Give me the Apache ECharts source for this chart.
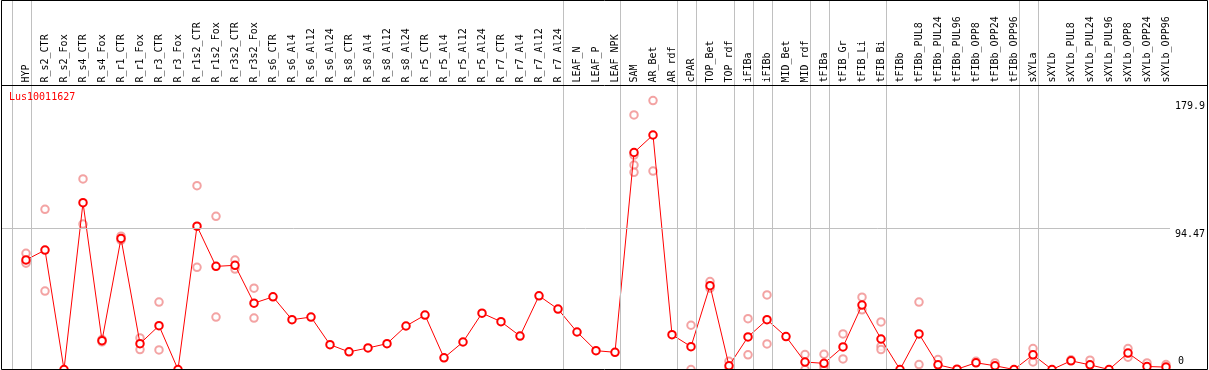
<!DOCTYPE html>
<html><head><meta charset="utf-8">
<script src="https://cdn.jsdelivr.net/npm/echarts@6/dist/echarts.min.js"></script>
<style>html,body{margin:0;padding:0;background:#fff}#c{width:1209px;height:370px}</style>
</head><body><div id="c"></div>
<script>
const chartTitle = 'Lus10011627';
const categories = ['HYP','R_s2_CTR','R_s2_Fox','R_s4_CTR','R_s4_Fox','R_r1_CTR','R_r1_Fox','R_r3_CTR','R_r3_Fox','R_r1s2_CTR','R_r1s2_Fox','R_r3s2_CTR','R_r3s2_Fox','R_s6_CTR','R_s6_Al4','R_s6_Al12','R_s6_Al24','R_s8_CTR','R_s8_Al4','R_s8_Al12','R_s8_Al24','R_r5_CTR','R_r5_Al4','R_r5_Al12','R_r5_Al24','R_r7_CTR','R_r7_Al4','R_r7_Al12','R_r7_Al24','LEAF_N','LEAF_P','LEAF_NPK','SAM','AR_Bet','AR_rdf','cPAR','TOP_Bet','TOP_rdf','iFIBa','iFIBb','MID_Bet','MID_rdf','tFIBa','tFIB_Gr','tFIB_Li','tFIB_Bi','tFIBb','tFIBb_PUL8','tFIBb_PUL24','tFIBb_PUL96','tFIBb_OPP8','tFIBb_OPP24','tFIBb_OPP96','sXYLa','sXYLb','sXYLb_PUL8','sXYLb_PUL24','sXYLb_PUL96','sXYLb_OPP8','sXYLb_OPP24','sXYLb_OPP96'];
const means = [
  73.3, 79.9, 0, 111.6, 19.3, 87.7, 17.3, 29.3, 0, 95.9,
  69.0, 69.7, 44.4, 48.6, 33.3, 35.1, 16.6, 11.8, 14.4, 17.3,
  29.1, 36.4, 7.8, 18.4, 37.7, 32.0, 22.4, 49.3, 40.4, 25.1,
  12.6, 11.5, 145.2, 156.9, 23.3, 15.3, 56.1, 2.5, 21.8, 33.3,
  22.0, 5.0, 4.1, 15.1, 43.1, 20.4, 0, 23.8, 3.1, 0.2,
  4.5, 2.5, 0, 9.8, 0, 5.8, 3.1, 0, 11.0, 2.0, 1.6
];
const replicates = [
  [77.7, 72.1, 71.1], [107.2, 52.5], [], [127.5, 97.3], [20.0, 18.5],
  [89.2, 86.5], [21.1, 13.3], [45.1, 13.1], [], [123.0, 68.4],
  [102.5, 35.1], [73.2, 67.2], [54.4, 34.4], [], [],
  [], [], [], [], [],
  [], [], [], [], [],
  [], [], [], [], [],
  [], [], [170.3, 143.5, 136.8, 131.9], [179.9, 132.8], [],
  [29.6, 0], [58.8, 54.4], [5.5, 0.3], [34.0, 9.8], [49.9, 17.1],
  [], [10.0, 0], [10.2, 2.2, 0], [23.8, 7.1], [48.4, 39.9],
  [31.8, 15.5, 13.3], [], [45.1, 3.3], [6.7], [],
  [5.5], [4.4], [], [14.0, 5.1], [],
  [6.5], [6.2], [], [14.0, 8.2], [4.4],
  [3.3]
];
// vertical separators drawn after these category indexes
const groupEnds = [-1, 0, 28, 31, 34, 35, 37, 38, 39, 41, 42, 45, 52, 53, 60];
const refLineValue = 94.47;
const tickValues = [179.9, 94.47, 0];
const tickLabels = ['179.9', '94.47', '0'];

const FONT = 'DejaVu Sans Mono';
const chart = echarts.init(document.getElementById('c'), null, {renderer: 'canvas'});

const repData = [];
replicates.forEach((reps, i) => reps.forEach(v => repData.push([i, v])));
const meanData = means.map((v, i) => [i, v]);

chart.setOption({
  animation: false,
  title: {
    text: chartTitle, left: 9, top: 92, padding: 0,
    textStyle: {fontFamily: FONT, fontSize: 10, color: '#ff0000', fontWeight: 'normal'}
  },
  grid: {left: 1, right: 39, top: 0, bottom: 0.5},
  xAxis: {
    type: 'value', min: -25 / 19, max: 1144 / 19, position: 'top', offset: -85.5,
    axisLine: {show: false}, axisTick: {show: false}, splitLine: {show: false},
    axisLabel: {
      customValues: categories.map((_, i) => i),
      formatter: v => categories[Math.round(v)] || '',
      rotate: 90, margin: 3, fontFamily: FONT, fontSize: 10, color: '#000'
    }
  },
  yAxis: {type: 'value', min: 0, max: 369.5 / 1.4946, show: false},
  series: [
    {
      type: 'scatter', data: repData, symbol: 'emptyCircle', symbolSize: 7.5, silent: true, z: 2,
      itemStyle: {color: '#f08c8c', borderWidth: 1},
      markLine: {
        silent: true, symbol: 'none', label: {show: false}, animation: false,
        lineStyle: {color: '#c0c0c0', width: 1, type: 'solid'},
        data: groupEnds.map(e => ({xAxis: e + 0.25})).concat([{yAxis: refLineValue}])
      }
    },
    {
      type: 'line', data: meanData, symbol: 'emptyCircle', symbolSize: 7.5, z: 3, silent: true,
      lineStyle: {color: '#ff0000', width: 1},
      itemStyle: {color: '#ff0000', borderWidth: 1.2}
    }
  ]
});

const graphics = [
  {type: 'rect', z: 100, shape: {x: 1.5, y: 0.5, width: 1206, height: 369}, style: {fill: null, stroke: '#000', lineWidth: 1}},
  {type: 'line', z: 100, shape: {x1: 1.5, y1: 85.5, x2: 1207.5, y2: 85.5}, style: {stroke: '#000', lineWidth: 1}}
];
tickValues.forEach((v, k) => {
  const py = chart.convertToPixel({yAxisIndex: 0}, v);
  const atZero = v === 0;
  graphics.push({
    type: 'text', z: 100, x: atZero ? 1178 : 1175, y: atZero ? py - 3 : py + 1,
    style: {text: tickLabels[k], font: '10px "' + FONT + '"', fill: '#000',
      textAlign: 'left', textVerticalAlign: atZero ? 'bottom' : 'top'}
  });
});
chart.setOption({graphic: graphics});
</script>
</body></html>
